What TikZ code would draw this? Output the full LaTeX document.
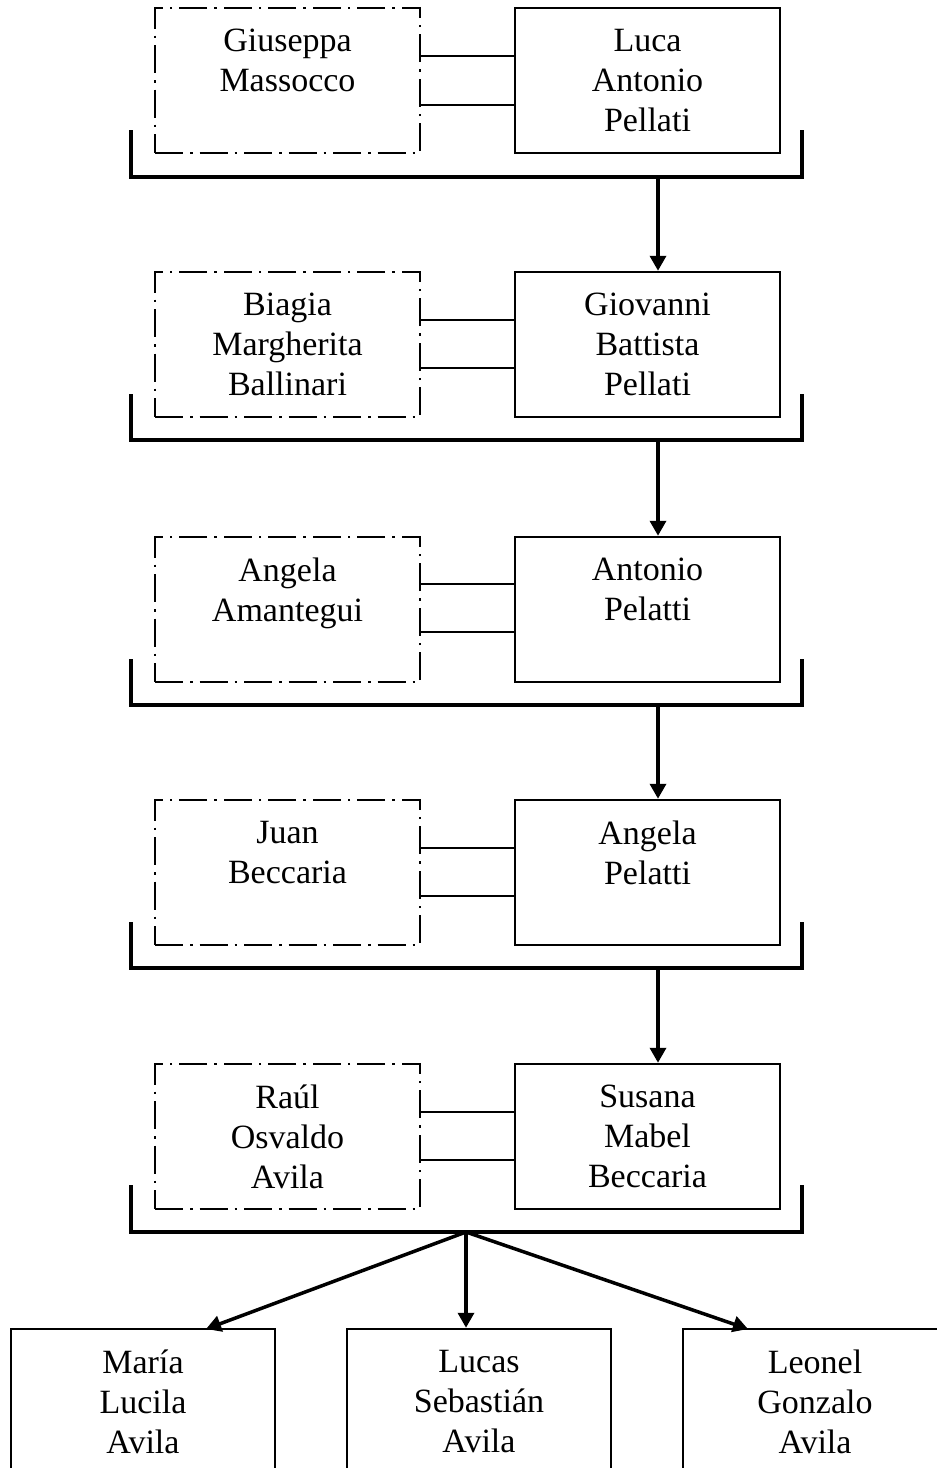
\documentclass[tikz,border=0pt]{standalone}
\usepackage{fontspec}
\setmainfont{Liberation Serif}
\usetikzlibrary{arrows.meta}

\tikzset{
	person/.style={draw, line width=2.5pt, minimum width=265pt, minimum height=145pt,
		inner sep=0pt, align=center, font=\fontsize{34}{40}\selectfont},
	spouse/.style={person, dash pattern=on 28pt off 7pt on 2.5pt off 7pt},
	link/.style={line width=2pt},
	bracket/.style={line width=4pt},
	descent/.style={line width=3.5pt, -{Triangle[length=15pt,width=16pt]}}
}

\begin{document}
\begin{tikzpicture}[x=1pt, y=-1pt]
	\useasboundingbox (0,0) rectangle (937,1468);

	% generation 1
	\node [spouse] (giuseppa) at (287.5,80.5) {Giuseppa\\Massocco\\\phantom{M}};
	\node [person] (luca) at (647.5,80.5) {Luca\\Antonio\\Pellati};
	\draw [link] (giuseppa.east |- 0,56) -- (luca.west |- 0,56);
	\draw [link] (giuseppa.east |- 0,105) -- (luca.west |- 0,105);
	\draw [bracket] (131,130) |- (802,177) -- (802,130);
	\coordinate (f1) at (658,177);

	% generation 2
	\node [spouse] (biagia) at (287.5,344.5) {Biagia\\Margherita\\Ballinari};
	\node [person] (giovanni) at (647.5,344.5) {Giovanni\\Battista\\Pellati};
	\draw [link] (biagia.east |- 0,320) -- (giovanni.west |- 0,320);
	\draw [link] (biagia.east |- 0,368) -- (giovanni.west |- 0,368);
	\draw [bracket] (131,394) |- (802,440) -- (802,394);
	\coordinate (f2) at (658,440);

	% generation 3
	\node [spouse] (amantegui) at (287.5,609.5) {Angela\\Amantegui\\\phantom{M}};
	\node [person] (antonio) at (647.5,609.5) {Antonio\\Pelatti\\\phantom{M}};
	\draw [link] (amantegui.east |- 0,584) -- (antonio.west |- 0,584);
	\draw [link] (amantegui.east |- 0,632) -- (antonio.west |- 0,632);
	\draw [bracket] (131,659) |- (802,705) -- (802,659);
	\coordinate (f3) at (658,705);

	% generation 4
	\node [spouse] (juan) at (287.5,872.5) {Juan\\Beccaria\\\phantom{M}};
	\node [person] (angela) at (647.5,872.5) {Angela\\Pelatti\\\phantom{M}};
	\draw [link] (juan.east |- 0,848) -- (angela.west |- 0,848);
	\draw [link] (juan.east |- 0,896) -- (angela.west |- 0,896);
	\draw [bracket] (131,922) |- (802,968) -- (802,922);
	\coordinate (f4) at (658,968);

	% generation 5
	\node [spouse] (raul) at (287.5,1136.5) {Raúl\\Osvaldo\\Avila};
	\node [person] (susana) at (647.5,1136.5) {Susana\\Mabel\\Beccaria};
	\draw [link] (raul.east |- 0,1112) -- (susana.west |- 0,1112);
	\draw [link] (raul.east |- 0,1160) -- (susana.west |- 0,1160);
	\draw [bracket] (131,1185) |- (802,1232) -- (802,1185);
	\coordinate (f5) at (466,1232);

	% children
	\node [person, minimum width=264pt] (maria) at (143,1401.5) {María\\Lucila\\Avila};
	\node [person, minimum width=264pt] (lucas) at (479,1401.5) {Lucas\\Sebastián\\Avila};
	\node [person, minimum width=264pt] (leonel) at (815,1401.5) {Leonel\\Gonzalo\\Avila};

	\draw [descent] (f1) -- (f1 |- giovanni.north);
	\draw [descent] (f2) -- (f2 |- antonio.north);
	\draw [descent] (f3) -- (f3 |- angela.north);
	\draw [descent] (f4) -- (f4 |- susana.north);
	\draw [descent] (f5) -- (206,1329);
	\draw [descent] (f5) -- (f5 |- lucas.north);
	\draw [descent] (f5) -- (748,1329);
\end{tikzpicture}
\end{document}
